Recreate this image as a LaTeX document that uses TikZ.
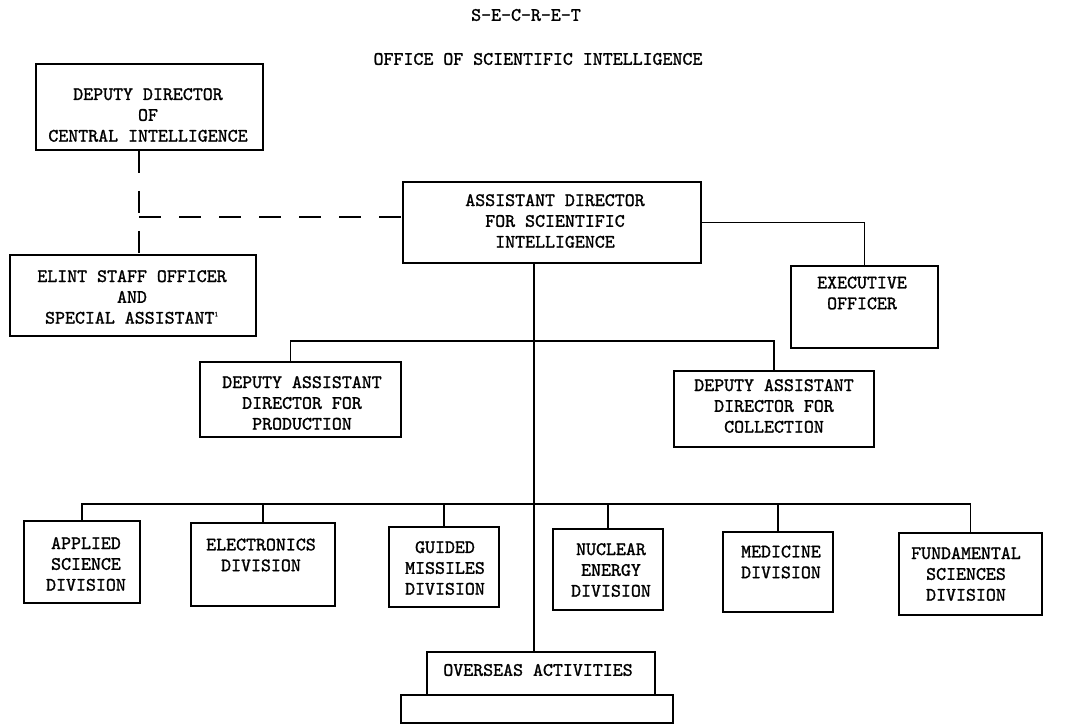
\documentclass[tikz,border=0pt]{standalone}
\usepackage{fontspec}
\newfontfamily\typefont{lmmono10-regular.otf}[FakeBold=1.3]

\begin{document}
\begin{tikzpicture}[x=0.25mm,y=-0.25mm]
                \tikzstyle{unit}=[rectangle,draw=black,line width=1.1pt,inner sep=0pt]
                \tikzstyle{txt}=[align=center,inner sep=0pt,font=\typefont\fontsize{13.5}{14.8}\selectfont]
                \tikzstyle{link}=[line width=1.2pt]
                \tikzstyle{staff}=[line width=1.2pt,dash pattern=on 5.5mm off 4.5mm]
                \useasboundingbox (0,0) rectangle (1066,725);

                \node[txt] (secret) at (526,15) {S-E-C-R-E-T};
                \node[txt] (office) at (538,59) {OFFICE OF SCIENTIFIC INTELLIGENCE};

                \foreach \name/\x/\y/\w/\h in {ddci/149.5/107/227/86, elint/133/295.5/246/81,
                        adsi/552/222.5/298/81, exec/864.5/307/147/82,
                        dadp/300.5/399.5/201/75, dadc/774/409/200/76,
                        applied/82/562/116/82, electronics/263/564.5/144/83,
                        guided/444/567/110/80, nuclear/608/569.5/110/81,
                        medicine/778/572/110/80, fundamental/970.5/574/143/82,
                        over/541/673.5/228/43, base/537/709/272/28}
                        \node[unit,minimum width=\w*0.25mm,minimum height=\h*0.25mm] (B-\name) at (\x,\y) {};

                \foreach \name/\x/\y/\text in {ddci/148/115/{DEPUTY DIRECTOR\\OF\\CENTRAL INTELLIGENCE},
                        elint/132/297/{ELINT STAFF OFFICER\\AND\\SPECIAL ASSISTANT\textsuperscript{\tiny 1}},
                        adsi/555/221/{ASSISTANT DIRECTOR\\FOR SCIENTIFIC\\INTELLIGENCE},
                        exec/862/293/{EXECUTIVE\\OFFICER},
                        dadp/302/403/{DEPUTY ASSISTANT\\DIRECTOR FOR\\PRODUCTION},
                        dadc/774/406/{DEPUTY ASSISTANT\\DIRECTOR FOR\\COLLECTION},
                        applied/86/564/{APPLIED\\SCIENCE\\DIVISION},
                        electronics/261/555/{ELECTRONICS\\DIVISION},
                        guided/445/568/{GUIDED\\MISSILES\\DIVISION},
                        nuclear/611/570/{NUCLEAR\\ENERGY\\DIVISION},
                        medicine/781/562/{MEDICINE\\DIVISION},
                        fundamental/966/574/{FUNDAMENTAL\\SCIENCES\\DIVISION},
                        over/538/670/{OVERSEAS ACTIVITIES}}
                        \node[txt] (T-\name) at (\x,\y) {\text};

                \coordinate (dj) at (139,217);
                \coordinate (spine) at (534,263);
                \coordinate (mbus) at (534,341);
                \coordinate (dbus) at (534,504);

                % staff (dashed) relations
                \draw[staff] (dj |- B-ddci.south) -- (dj |- B-elint.north);
                \draw[staff] (dj) -- (dj -| B-adsi.west);

                % line relations
                \draw[link] (B-adsi.east) -| (B-exec.north);
                \draw[link] (spine) -- (spine |- B-over.north);
                \draw[link] ([xshift=-2.5mm]B-dadp.north) |- (mbus) -| (B-dadc.north);
                \draw[link] (B-applied.north) |- (dbus) -| (B-fundamental.north);
                \foreach \name in {electronics, guided, nuclear, medicine}
                        \draw[link] (B-\name.north) -- (B-\name.north |- dbus);

\end{tikzpicture}
\end{document}
